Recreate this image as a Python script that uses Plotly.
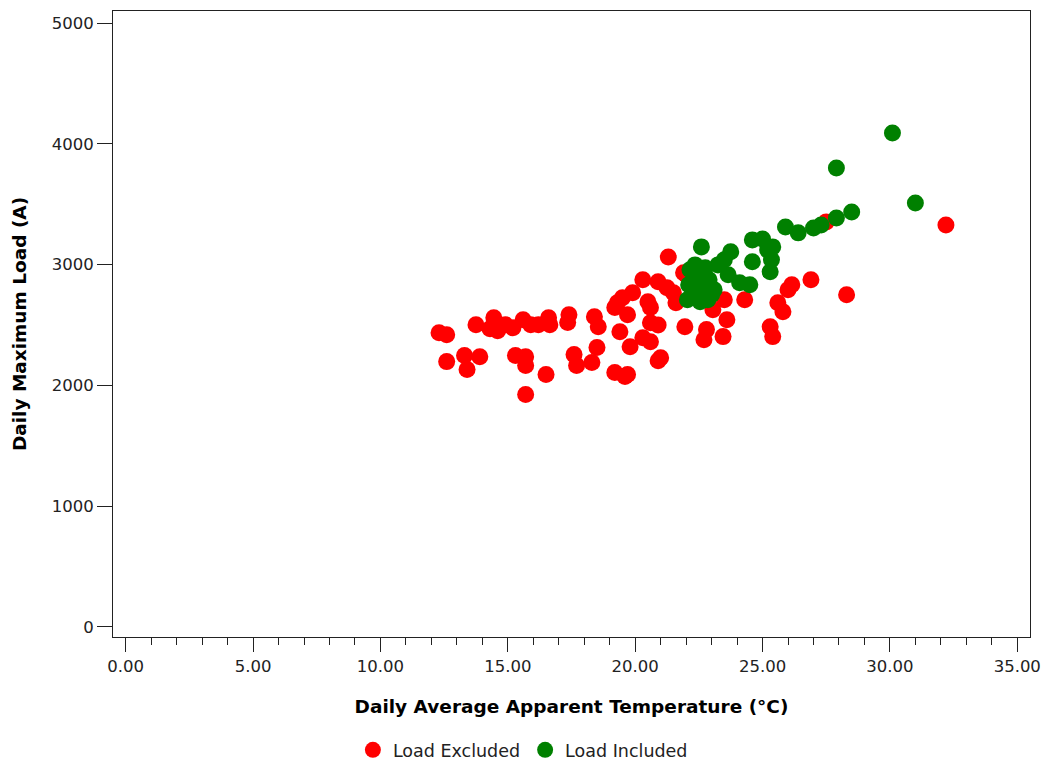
import plotly.graph_objects as go

# Daily average apparent temperature (°C) and daily maximum load (A)
excluded_temp = [
    12.3, 12.6, 12.6, 13.3, 13.4, 13.75, 13.9, 14.3, 14.45, 14.6,
    14.9, 15.2, 15.3, 15.6, 15.7, 15.7, 15.7, 15.9, 16.2, 16.5,
    16.6, 16.65, 17.4, 17.35, 17.6, 17.7, 18.3, 18.4, 18.55, 18.5,
    19.2, 19.6, 19.7, 19.3, 19.5, 19.2, 19.7, 19.9, 20.3, 20.9,
    20.5, 20.6, 20.6, 19.4, 20.3, 20.6, 19.8, 21.0, 20.9, 21.3,
    21.25, 21.5, 21.6, 21.95, 21.9, 22.0, 22.2, 23.05, 23.5, 24.3,
    22.8, 23.45, 23.6, 22.7, 25.3, 25.4, 26.9, 26.15, 26.0, 28.3,
    25.6, 25.8, 27.5, 32.2, 20.9,
]
excluded_load = [
    2437, 2420, 2197, 2247, 2131, 2503, 2238, 2470, 2561, 2453,
    2503, 2478, 2247, 2544, 2238, 2164, 1925, 2503, 2503, 2090,
    2561, 2503, 2585, 2520, 2255, 2164, 2189, 2569, 2486, 2313,
    2106, 2073, 2090, 2685, 2726, 2645, 2585, 2767, 2875, 2858,
    2693, 2645, 2519, 2445, 2395, 2362, 2321, 2230, 2205, 3064,
    2808, 2767, 2685, 2486, 2932, 2916, 2850, 2626, 2710, 2710,
    2462, 2404, 2544, 2379, 2486, 2404, 2875, 2833, 2792, 2750,
    2685, 2610, 3354, 3329, 2500,
]

included_temp = [
    22.6, 22.15, 22.35, 22.55, 22.75, 22.1, 22.25, 22.45, 22.7, 22.9,
    22.05, 22.55, 23.0, 23.25, 23.5, 23.75, 23.65, 24.1, 24.5, 24.6,
    24.6, 25.0, 25.2, 25.3, 25.35, 25.4, 23.1, 22.85, 25.9, 26.4,
    27.0, 27.3, 27.9, 28.5, 31.0, 30.1, 27.9,
]
included_load = [
    3147, 2957, 2998, 2916, 2974, 2833, 2775, 2792, 2833, 2875,
    2709, 2693, 2750, 2998, 3040, 3106, 2916, 2850, 2833, 3023,
    3205, 3213, 3122, 2941, 3040, 3147, 2792, 2709, 3312, 3263,
    3304, 3329, 3387, 3436, 3511, 4089, 3800,
]

x_ticks = [0, 5, 10, 15, 20, 25, 30, 35]
y_ticks = [0, 1000, 2000, 3000, 4000, 5000]

FONT = "DejaVu Sans"
INK = "#222222"

fig = go.Figure()
fig.add_trace(go.Scatter(
    x=excluded_temp, y=excluded_load, mode="markers", name="Load Excluded",
    marker=dict(color="#ff0000", size=17, line=dict(width=0)),
))
fig.add_trace(go.Scatter(
    x=included_temp, y=included_load, mode="markers", name="Load Included",
    marker=dict(color="#008000", size=17, line=dict(width=0)),
))

fig.update_layout(
    width=1046, height=762,
    margin=dict(l=113, r=16, t=11, b=125, autoexpand=False),
    paper_bgcolor="white", plot_bgcolor="white",
    font=dict(family=FONT, color=INK),
    showlegend=True,
    legend=dict(
        orientation="h", x=0.447, xanchor="center", y=-0.1805, yanchor="middle",
        font=dict(family=FONT, size=17.5, color=INK),
        itemsizing="trace", itemwidth=30,
    ),
    xaxis=dict(
        range=[-0.5, 35.5], tickvals=x_ticks, tickformat=".2f",
        ticks="outside", ticklen=14, tickwidth=1, tickcolor=INK,
        minor=dict(dtick=1, ticks="outside", ticklen=7, tickwidth=1, tickcolor=INK),
        showline=True, linecolor=INK, linewidth=1, mirror=True,
        showgrid=False, zeroline=False, automargin=False,
        tickfont=dict(family=FONT, size=16.5, color=INK),
        title=dict(text="<b>Daily Average Apparent Temperature (°C)</b>",
                   font=dict(family=FONT, size=18.5, color="#000000"), standoff=25),
    ),
    yaxis=dict(
        range=[-83, 5100], tickvals=y_ticks,
        ticks="outside", ticklen=15, tickwidth=1, tickcolor=INK,
        showline=True, linecolor=INK, linewidth=1, mirror=True,
        showgrid=False, zeroline=False, automargin=False,
        tickfont=dict(family=FONT, size=16.5, color=INK),
        title=dict(text="<b>Daily Maximum Load (A)</b>",
                   font=dict(family=FONT, size=18.5, color="#000000"), standoff=20),
    ),
)

fig.write_html("out.html")
